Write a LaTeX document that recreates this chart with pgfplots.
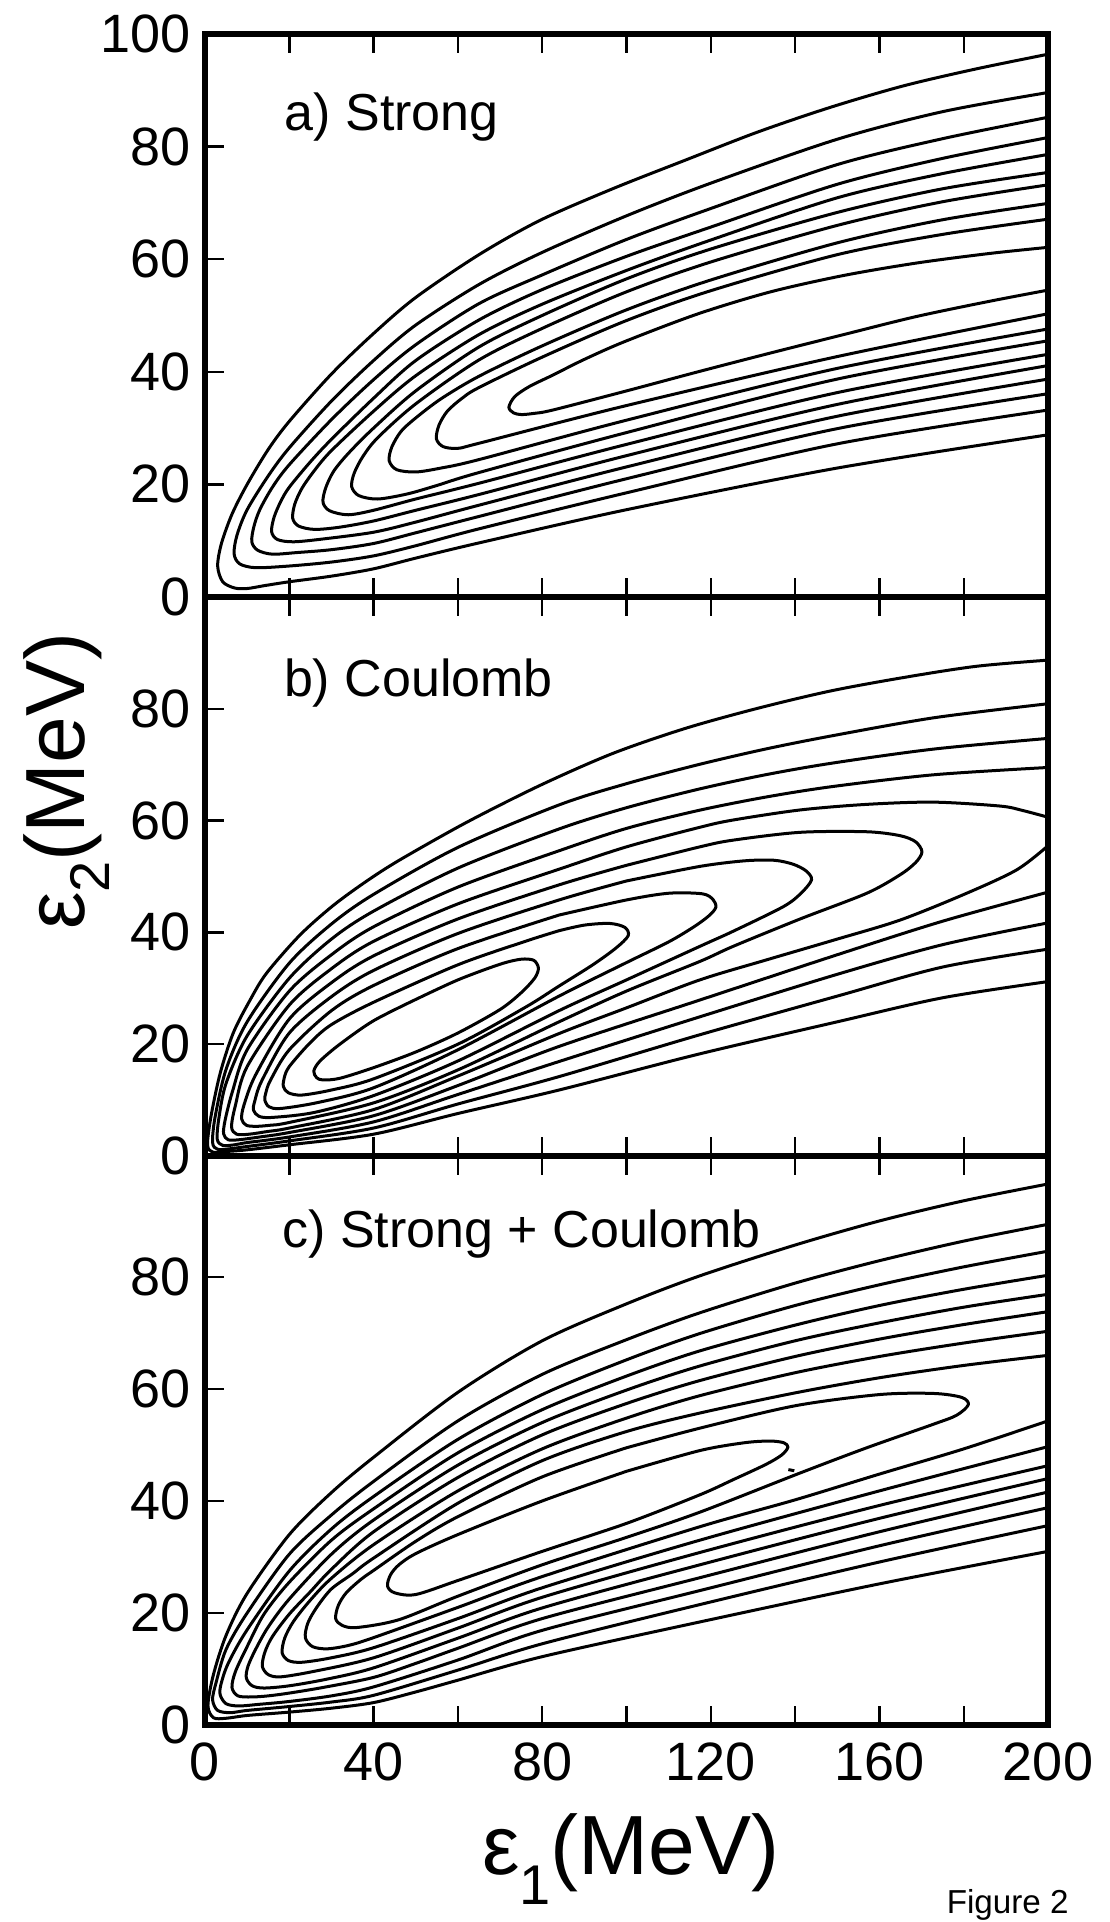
\documentclass[border=0pt]{standalone}
\usepackage{fontspec}
\setmainfont{Liberation Sans}
\usepackage{pgfplots}
\pgfplotsset{compat=1.18}
\pgfplotsset{
  panel/.style={
    scale only axis,
    width=210.75pt,
    xmin=0, xmax=200, ymin=0,
    axis line style={line width=1.3pt},
    xtick={0,20,...,200},
    xtick pos=both,
    ytick pos=left,
    tick align=inside,
    major tick length=4.8pt,
    tick style={black, line width=0.6pt},
    tick label style={font=\fontsize{13.5}{15}\selectfont},
    /pgf/number format/assume math mode=true,
  },
  cl/.style={black, line width=0.75pt, smooth, tension=0.5, mark=none, line cap=round, line join=round},
}
\tikzset{plab/.style={anchor=base west, font=\fontsize{13}{15}\selectfont}}
\begin{document}
\begin{tikzpicture}
\useasboundingbox (0,0) rectangle (277.5pt,480.5pt);
% ---------------- panel a ----------------
\begin{axis}[panel, at={(51.25pt,331.25pt)}, anchor=south west, height=140.75pt,
  ymax=100, ytick={0,20,40,60,80,100}, xticklabels={}]
\addplot[cl] coordinates {(200,96.4) (183,93.8) (165.8,90.8) (148.5,87.0) (131.2,82.6) (114,77.6) (96.7,72.5) (79.5,66.9) (65,60.8) (50,53.2) (40,46.8) (30,39.6) (20,31.2) (15,26.2) (10,20.0) (6.4,14.7) (3.9,9.5) (3.0,5.5) (4.2,2.7) (7,1.6) (10,1.5) (14,2.0) (20,2.7) (30,3.7) (40,5.0) (50,6.9) (65,9.6) (100,15.5) (150,22.9) (200,28.8)};
\addplot[cl] coordinates {(200,89.6) (175,86.2) (150,81.3) (120,73.5) (100,67.7) (80,61.2) (65,55.5) (50,48.3) (40,42.0) (30,34.8) (20,26.5) (15,21.5) (10,15.5) (7.6,11.0) (6.9,7.7) (8.2,5.9) (12,5.2) (20,5.5) (30,6.2) (40,7.3) (50,9.1) (65,12.1) (100,18.5) (150,27.2) (200,33.2)};
\addplot[cl] coordinates {(200,85.2) (175,81.4) (150,76.8) (120,69.0) (100,63.5) (80,57.2) (65,52.1) (50,44.8) (40,38.6) (30,31.5) (20,23.5) (16,19.5) (13,15.5) (11.6,12.5) (11.1,9.8) (12.5,8.3) (16,7.6) (22,7.9) (30,8.4) (40,9.5) (50,11.4) (65,14.3) (100,21.0) (150,29.9) (200,36.1)};
\addplot[cl] coordinates {(200,81.6) (175,77.9) (150,73.3) (120,65.7) (100,60.5) (80,54.6) (65,49.2) (50,42.0) (40,35.3) (30,28.0) (25,24.0) (20,19.5) (18,17.0) (16.4,14.2) (15.8,11.6) (17.2,10.2) (21,9.8) (28,10.3) (40,11.5) (50,13.3) (65,16.3) (100,23.1) (150,32.1) (200,38.7)};
\addplot[cl] coordinates {(200,78.6) (175,75.2) (150,70.9) (120,63.4) (100,58.0) (80,52.0) (65,46.6) (50,39.3) (40,33.0) (30,26.0) (26,22.5) (23,19.3) (21.3,16.5) (20.8,14.0) (22.2,12.6) (26,12.0) (32,12.4) (40,13.5) (50,15.4) (65,18.2) (100,25.1) (150,34.2) (200,41.1)};
\addplot[cl] coordinates {(200,75.4) (175,72.5) (150,68.3) (120,61.8) (100,56.5) (80,50.0) (65,44.4) (50,36.6) (40,30.0) (34,25.5) (30.5,22.3) (28.6,19.3) (28.0,16.8) (29.6,15.3) (34,14.6) (40,15.4) (50,17.4) (65,20.2) (100,27.1) (150,36.3) (200,43.1)};
\addplot[cl] coordinates {(200,73.2) (175,70.2) (150,66.0) (120,59.5) (100,54.2) (80,47.7) (65,42.1) (50,34.3) (41,28.3) (37.5,25.0) (35.4,22.0) (34.8,19.6) (36.5,18.0) (41,17.4) (48,18.3) (55,19.8) (65,22.1) (100,29.2) (150,38.7) (200,45.5)};
\addplot[cl] coordinates {(200,69.9) (175,67.0) (150,62.9) (120,56.3) (100,51.0) (80,44.6) (65,39.2) (56,35.2) (50,31.8) (46.5,29.4) (44.3,26.6) (43.7,24.2) (45.5,22.6) (50,22.2) (56,22.9) (65,24.4) (100,31.4) (150,40.6) (200,47.6)};
\addplot[cl] coordinates {(200,67.1) (175,64.4) (150,60.8) (120,54.4) (100,49.1) (80,42.6) (65,37.2) (61,35.3) (57.5,33.0) (55.5,30.5) (54.9,28.1) (56.5,26.7) (60,26.4) (65,27.3) (100,34.0) (150,42.7) (200,50.3)};
\addplot[cl] coordinates {(200,62.1) (186,61.0) (168.7,59.3) (151.5,57.1) (134.2,54.2) (117,50.3) (99.7,45.4) (90,42.2) (82.5,39.4) (77,37.4) (73.5,35.6) (72.1,33.7) (73.2,32.7) (75,32.4) (78,32.6) (82.5,33.2) (100,36.6) (117,40.0) (134,43.3) (151.5,46.6) (168.7,49.8) (186,52.5) (200,54.5)};
\node[plab] at (rel axis cs:0.078,0.829) {a) Strong};
\end{axis}
% ---------------- panel b ----------------
\begin{axis}[panel, at={(51.25pt,191.5pt)}, anchor=south west, height=139.75pt,
  ymax=100, ytick={0,20,40,60,80}, xticklabels={}]
\addplot[cl] coordinates {(200,88.7) (183,87.6) (165.8,85.6) (148.5,83.2) (131.2,80.1) (114,76.5) (96.7,72.0) (79.5,66.3) (62.1,59.7) (46.3,53.0) (38.4,49.2) (30.4,44.8) (22.5,39.5) (14.6,32.7) (10.7,27.9) (6.7,22.0) (3.6,14.8) (1.4,7.0) (0.6,2.0) (1.8,0.7) (5,0.8) (10,1.1) (20,2.0) (40,3.9) (60,7.6) (84,11.8) (117,18.2) (150,24.0) (175,28.3) (200,31.2)};
\addplot[cl] coordinates {(200,80.9) (173,78.4) (149,75.2) (133,72.8) (117,70.0) (100,66.6) (84,62.8) (60,55.2) (40,46.8) (30,41.5) (20,34.5) (10,24.0) (5,15.5) (2.4,7.0) (1.8,2.4) (3,1.2) (6,1.3) (10,1.7) (20,2.7) (40,5.0) (60,9.3) (84,14.2) (117,21.6) (150,28.6) (175,33.8) (200,37.0)};
\addplot[cl] coordinates {(200,74.7) (173,72.8) (149,70.3) (133,68.2) (117,65.6) (100,62.3) (84,58.5) (60,51.5) (40,43.8) (30,38.8) (20,31.8) (10,21.5) (5,13.0) (3.3,6.8) (2.9,3.0) (4.2,1.9) (7,2.0) (10,2.4) (20,3.4) (40,6.1) (60,11.0) (84,16.9) (117,24.8) (150,32.5) (175,37.8) (200,41.7)};
\addplot[cl] coordinates {(200,69.5) (173,68.2) (149,66.1) (133,64.2) (117,61.8) (100,58.6) (84,54.6) (60,48.1) (40,41.0) (30,36.0) (20,29.5) (10,19.0) (6.5,11.5) (4.8,6.5) (4.4,4.0) (5.5,2.9) (8,2.9) (13,3.4) (20,4.2) (40,7.2) (60,12.6) (84,19.6) (117,27.8) (150,36.0) (175,42.0) (200,47.2)};
\addplot[cl] coordinates {(200,60.6) (194,61.8) (188.6,62.6) (172.8,63.3) (157,62.9) (141.2,61.9) (125.3,60.1) (117.4,58.8) (100,55.3) (84,51.3) (60,45.1) (40,38.4) (30,33.5) (20,27.0) (10,16.0) (7.2,9.0) (6.3,5.2) (7.5,3.9) (10.5,3.9) (15,4.4) (20,5.0) (40,8.3) (60,14.3) (84,21.9) (100,26.5) (117.4,31.5) (133.3,35.1) (149.1,38.6) (164.9,42.2) (180.7,47.0) (192.6,51.2) (200,55.5)};
\addplot[cl] coordinates {(100,52.0) (84,48.5) (60,42.4) (40,35.8) (30,31.0) (20,24.5) (12,14.5) (9.2,9.0) (8.7,6.6) (9.8,5.5) (12,5.3) (15.5,5.5) (20,6.0) (40,9.5) (60,15.4) (84,24.0) (100,29.5) (117.4,34.8) (125.3,37.5) (141.2,42.4) (157,47.0) (164.9,50.3) (168.6,52.5) (170.1,54.4) (168.6,56.2) (164.9,57.3) (157,58.0) (141.2,57.9) (125.3,56.5) (117.4,55.3) (100,52.0)};
\addplot[cl] coordinates {(100,49.2) (84,45.8) (60,39.8) (40,33.2) (30,28.5) (20,22.0) (13.5,13.5) (11.8,9.8) (11.5,8.2) (12.8,7.1) (16,6.9) (26,7.8) (40,10.8) (60,17.0) (84,26.0) (100,31.5) (117.4,37.5) (125.3,40.2) (137.2,44.6) (141.4,47.0) (143.9,49.4) (142.6,51.0) (139.5,52.2) (135,52.9) (128,52.8) (117.4,51.8) (100,49.2)};
\addplot[cl] coordinates {(84,43.1) (60,37.1) (40,30.5) (30,26.0) (20,19.0) (15.5,13.5) (14.4,11.2) (14.2,10.0) (15.2,8.8) (18,8.5) (27,9.6) (40,12.2) (60,19.0) (84,28.6) (100,34.6) (110,38.3) (116,41.0) (119.6,43.0) (121.2,44.5) (120.5,45.9) (118,46.9) (110,47.0) (100,45.8) (84,43.1)};
\addplot[cl] coordinates {(84,40.3) (76,38.4) (60,34.2) (40,27.5) (30,23.5) (25,20.3) (20,16.0) (18.8,14.0) (18.6,12.4) (19.8,11.3) (23,10.9) (30,11.8) (40,13.8) (60,20.0) (76,26.6) (84,30.4) (92,34.2) (97.5,37.2) (100.4,39.4) (99.6,40.9) (96,41.6) (90,41.3) (84,40.3)};
\addplot[cl] coordinates {(50,28.0) (40,24.2) (32,20.0) (27.3,17.0) (25.8,15.2) (26.5,14.0) (28,13.6) (32,13.9) (40,15.8) (50,18.6) (60,22.0) (70,26.2) (75,29.2) (78.2,31.8) (79.1,33.6) (78,35.0) (75,35.2) (70,34.3) (60,31.5) (50,28.0)};
\node[plab] at (rel axis cs:0.077,0.822) {b) Coulomb};
\end{axis}
% ---------------- panel c ----------------
\begin{axis}[panel, at={(51.25pt,49.25pt)}, anchor=south west, height=142.25pt,
  ymax=101.6, ytick={0,20,40,60,80},
  xticklabels={0,,40,,80,,120,,160,,200},
  xticklabel style={yshift=-0.8pt}]
\addplot[cl] coordinates {(200,96.6) (180,93.6) (160,90.0) (140,85.7) (117.4,80.2) (100,75.2) (80,68.6) (60,59.4) (40,47.8) (30,41.5) (20,34.0) (10,23.5) (5,16.0) (2.0,9.0) (0.7,3.5) (2.0,1.3) (5,1.2) (10,1.7) (20,2.3) (30,3.0) (40,4.0) (50,5.9) (60,8.0) (80,12.2) (117.4,18.4) (160,25.2) (200,31.0)};
\addplot[cl] coordinates {(200,89.4) (180,86.4) (160,82.9) (140,78.9) (117.4,73.6) (100,68.8) (80,62.6) (60,54.3) (40,43.5) (30,37.5) (20,30.5) (10,20.0) (5,13.5) (2.6,7.5) (1.8,4.5) (3,2.6) (6,2.2) (10,2.6) (20,3.3) (30,4.1) (40,5.3) (60,9.8) (80,14.5) (117.4,21.5) (160,29.1) (200,35.6)};
\addplot[cl] coordinates {(200,84.6) (180,81.8) (160,78.6) (140,74.9) (117.4,69.9) (100,65.2) (80,59.0) (60,51.0) (40,40.8) (30,35.0) (20,27.5) (10,17.0) (5.5,11.0) (3.8,7.3) (3.6,5.4) (5,3.8) (8,3.4) (13,3.7) (20,4.2) (30,5.2) (40,6.8) (60,11.6) (80,16.9) (117.4,24.0) (160,32.0) (200,38.8)};
\addplot[cl] coordinates {(200,80.3) (180,77.8) (160,74.9) (140,71.4) (117.4,66.8) (100,62.3) (80,56.3) (60,48.6) (40,38.6) (30,33.0) (20,25.5) (14,19.8) (10,14.0) (7.2,9.5) (6.4,6.7) (7.8,5.2) (11,5.0) (15,5.2) (20,5.7) (28,6.7) (40,8.5) (50,11.0) (60,13.7) (80,19.0) (117.4,26.3) (160,34.5) (200,41.6)};
\addplot[cl] coordinates {(200,76.9) (180,74.6) (160,71.8) (140,68.6) (117.4,64.1) (100,59.8) (80,54.0) (60,46.4) (40,36.6) (30,30.5) (20,22.5) (15,17.5) (12,13.5) (10.2,10.5) (9.8,8.4) (11.2,7.0) (14,6.6) (20,7.0) (29,8.2) (40,10.2) (60,15.5) (80,20.9) (117.4,28.6) (160,36.9) (200,44.0)};
\addplot[cl] coordinates {(200,73.8) (180,71.5) (160,68.9) (140,65.8) (117.4,61.5) (100,57.4) (80,51.8) (60,44.2) (40,34.5) (30,27.8) (25,23.8) (20,19.8) (16,15.8) (14.2,13.0) (13.6,10.5) (15,9.0) (18,8.6) (26,9.6) (40,12.0) (60,17.3) (80,22.8) (117.4,30.8) (160,39.2) (200,46.3)};
\addplot[cl] coordinates {(200,70.3) (180,68.2) (160,65.8) (140,62.9) (117.4,58.8) (100,54.8) (80,49.3) (60,41.8) (40,32.2) (30,26.2) (25,22.3) (21,18.5) (18.9,15.5) (18.3,12.9) (19.8,11.5) (23,11.2) (30,12.0) (40,13.8) (60,19.0) (80,24.5) (117.4,33.0) (160,41.8) (200,49.7)};
\addplot[cl] coordinates {(200,66.0) (180,64.2) (160,62.0) (140,59.3) (117.4,55.7) (100,52.4) (80,47.2) (60,39.6) (40,29.8) (35,27.0) (30,24.3) (26.5,21.0) (24.4,18.2) (23.8,15.6) (25.5,14.0) (29,13.6) (34,14.2) (40,15.6) (60,21.0) (80,26.5) (117.4,35.4) (140,40.2) (160,44.8) (180,49.3) (200,54.3)};
\addplot[cl] coordinates {(100,49.5) (80,44.3) (60,37.2) (50,32.8) (40,27.6) (37,26.0) (33.5,23.6) (31.6,21.3) (31.0,19.0) (32.5,17.8) (36,17.4) (46,18.8) (60,23.0) (80,28.6) (100,33.5) (117.4,38.0) (141.2,45.0) (157,49.5) (172.8,53.7) (178.3,55.3) (181.1,57.2) (179.5,58.5) (172.8,59.2) (160,59.0) (140,57.0) (117.4,53.0) (100,49.5)};
\addplot[cl] coordinates {(100,45.3) (80,40.0) (60,34.0) (50,30.6) (46,28.6) (44,26.8) (43.3,24.8) (45,23.6) (50,23.3) (60,25.8) (80,31.0) (100,36.0) (117.4,41.1) (125.3,43.8) (133,46.5) (136.8,48.2) (138.3,49.6) (137.3,50.4) (134,50.7) (128,50.4) (117.4,49.0) (100,45.3)};
\addplot[black, line width=0.75pt, mark=none] coordinates {(138.4,45.6) (139.8,45.4)};
\node[plab] at (rel axis cs:0.075,0.840) {c) Strong + Coulomb};
\end{axis}
% ---------------- labels ----------------
\node[rotate=90, anchor=base, font=\fontsize{21}{24}\selectfont] at (21pt,285.25pt)
  {ε\raisebox{-0.3em}{\fontsize{14}{14}\selectfont 2}(MeV)};
\node[anchor=base, font=\fontsize{21}{24}\selectfont] at (157.75pt,11.75pt)
  {ε\raisebox{-0.35em}{\fontsize{14}{14}\selectfont 1}(MeV)};
\node[anchor=base west, font=\fontsize{8.3}{10}\selectfont, inner sep=0pt] at (236.5pt,2pt) {Figure 2};
\end{tikzpicture}
\end{document}
